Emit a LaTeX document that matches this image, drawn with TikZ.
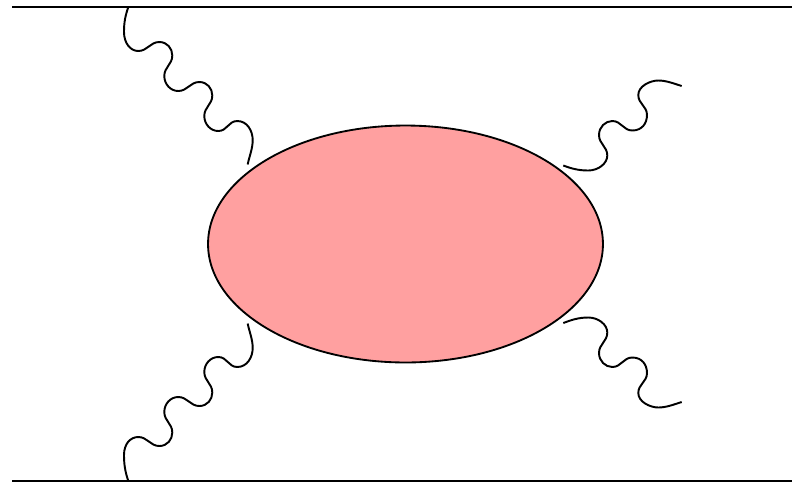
\documentclass[tikz,border=0pt]{standalone}
\usetikzlibrary{shapes.geometric}
\definecolor{blobred}{RGB}{255,160,160}
\tikzset{
    photon/.style={draw, line width=1.1pt},
    lepton/.style={draw, line width=1.15pt}
}
% one period of a wave, #1 = 1 downwards, -1 upwards
\newcommand{\leftwave}[1]{.. controls +(9,0) and +(-9,0) .. ++(21,#1*-9) .. controls +(8,0) and +(0,#1*-7) .. ++(13,#1*13.5) .. controls +(0,#1*9) and +(0,#1*-9) .. ++(-8,#1*20.5) .. controls +(0,#1*8) and +(-8,0) .. ++(14,#1*15)}
\newcommand{\rightwave}[1]{.. controls +(10,0) and +(0,#1*8) .. ++(19,#1*-15) .. controls +(0,#1*-9) and +(0,#1*9) .. ++(-8.3,#1*-20.5) .. controls +(0,#1*-8) and +(-7,0) .. ++(13.3,#1*-14) .. controls +(9,0) and +(-9,0) .. ++(20,#1*9.5)}
\begin{document}
\begin{tikzpicture}[x=0.02cm, y=-0.02cm]
    \useasboundingbox (0,0) rectangle (792,485);

    % Nodes
    \node[draw, ellipse, fill=blobred, line width=1.05pt, inner sep=0pt, minimum width=7.9cm, minimum height=4.74cm] (blob) at (405.5,244) {};
    \coordinate (topin) at (12,7);
    \coordinate (topout) at (792,7);
    \coordinate (botin) at (12,481);
    \coordinate (botout) at (792,481);
    \coordinate (topleft) at (128.3,7);
    \coordinate (topblob) at (247.7,164.5);
    \coordinate (botleft) at (128.3,481);
    \coordinate (botblob) at (247.7,323.5);
    \coordinate (upblob) at (563.3,165.5);
    \coordinate (upend) at (681.7,86);
    \coordinate (lowblob) at (563.3,323);
    \coordinate (lowend) at (681.7,402);

    % Lines
    \draw[lepton] (topin) -- (topout);
    \draw[lepton] (botin) -- (botout);

    % Photons
    \draw[photon] (topleft) .. controls +(-3,9) and +(0,-10) .. (124,32) .. controls +(0,11) and +(-8,0) .. (138.3,51) \leftwave{1} \leftwave{1}
        .. controls +(9,0) and +(-9,0) .. (237.3,121) .. controls +(10,0) and +(0,-9) .. (252.7,140) .. controls +(0,9) and +(1.5,-8) .. (topblob);
    \draw[photon] (botleft) .. controls +(-3,-9) and +(0,10) .. (124,455) .. controls +(0,-11) and +(-8,0) .. (138.3,437) \leftwave{-1} \leftwave{-1}
        .. controls +(9,0) and +(-9,0) .. (237.3,367) .. controls +(10,0) and +(0,9) .. (252.7,348) .. controls +(0,-9) and +(1.5,8) .. (botblob);
    \draw[photon] (upblob) .. controls +(8,3) and +(-10,0) .. (588.3,170.5) \rightwave{1}
        .. controls +(10,0) and +(0,8) .. (647,115) .. controls +(0,-9) and +(0,9) .. (638.3,95) .. controls +(0,-9) and +(-8,0) .. (658.3,80.5) .. controls +(8,0) and +(-8,-2.5) .. (upend);
    \draw[photon] (lowblob) .. controls +(8,-3) and +(-10,0) .. (588.3,317.5) \rightwave{-1}
        .. controls +(10,0) and +(0,-8) .. (647,373) .. controls +(0,9) and +(0,-9) .. (638.3,393) .. controls +(0,9) and +(-8,0) .. (658.3,407.5) .. controls +(8,0) and +(-8,2.5) .. (lowend);
\end{tikzpicture}
\end{document}
